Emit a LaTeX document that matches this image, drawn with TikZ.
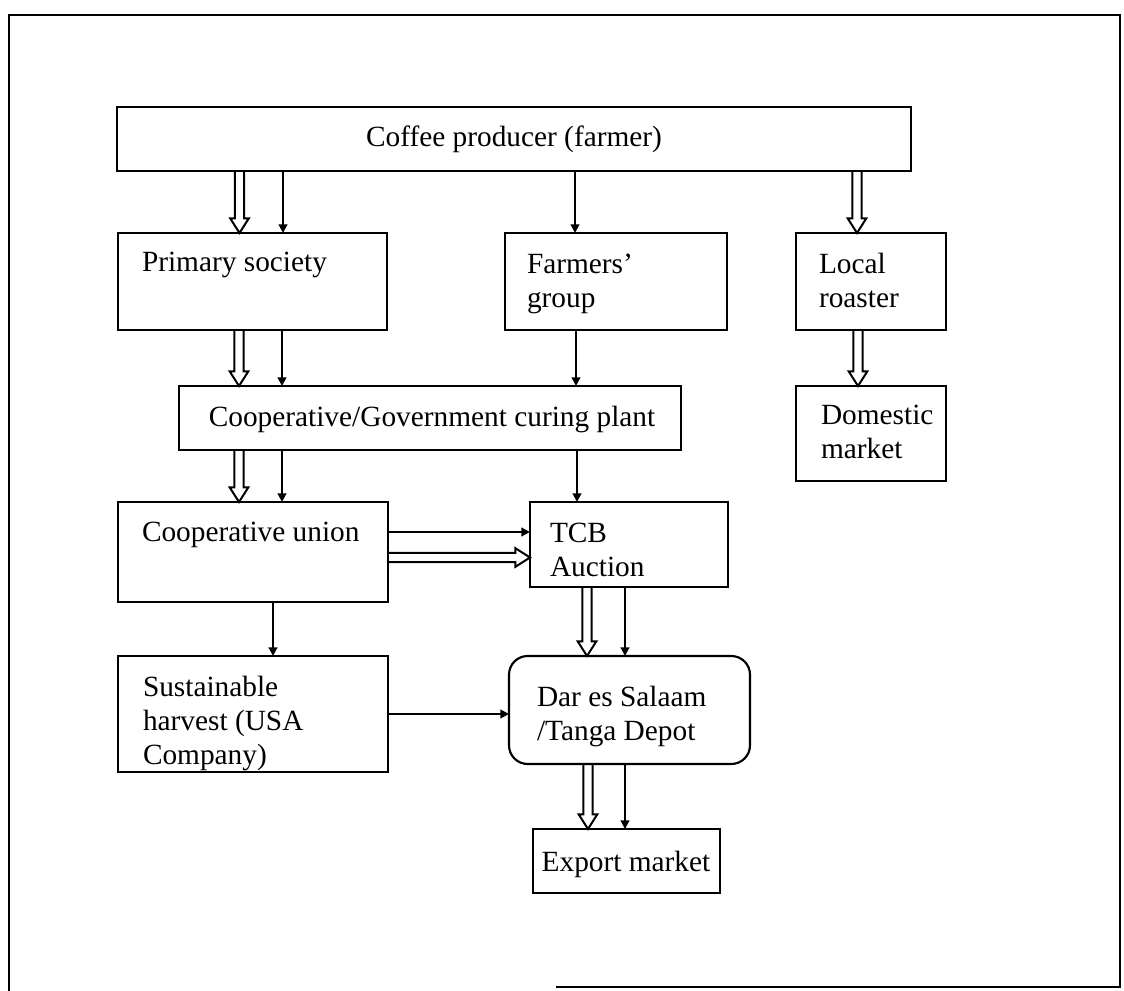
\documentclass[tikz,border=0pt]{standalone}
\usepackage{fontspec}
\setmainfont{Liberation Serif}
\usetikzlibrary{arrows.meta,calc}
\tikzset{
  box/.style={draw, line width=1.6pt, anchor=north west, inner sep=0pt, outer sep=0pt},
  txt/.style={inner sep=0pt, outer sep=0pt, align=left, font=\fontsize{22}{25.5}\selectfont},
  sarr/.style={line width=1.5pt, -{Triangle[width=6.5pt,length=6.5pt]}},
  blk/.style={line width=1.5pt, line join=miter, to path={
      ($(\tikztostart)!3.4pt!90:(\tikztotarget)$)
   -- ($(\tikztotarget)!11pt!(\tikztostart)!3.4pt!90:(\tikztotarget)$)
   -- ($(\tikztotarget)!11pt!(\tikztostart)!7pt!90:(\tikztotarget)$)
   -- (\tikztotarget)
   -- ($(\tikztotarget)!11pt!(\tikztostart)!7pt!-90:(\tikztotarget)$)
   -- ($(\tikztotarget)!11pt!(\tikztostart)!3.4pt!-90:(\tikztotarget)$)
   -- ($(\tikztostart)!3.4pt!-90:(\tikztotarget)$)
  }},
  frame/.style={line width=1.5pt}
}
\begin{document}
\begin{tikzpicture}[x=0.75pt,y=-0.75pt]
\useasboundingbox (0,0) rectangle (1124,991);
% outer frame
\draw[frame] (9,991) -- (9,15) -- (1120,15) -- (1120,987) -- (556,987);

% boxes
\node[box, minimum width=595.5pt, minimum height=48pt] (cof) at (117,107) {};
\node[box, minimum width=201.75pt, minimum height=72.75pt] (ps) at (118,233) {};
\node[box, minimum width=166.5pt, minimum height=72.75pt] (fg) at (505,233) {};
\node[box, minimum width=112.5pt, minimum height=72.75pt] (lr) at (796,233) {};
\node[box, minimum width=376.5pt, minimum height=48pt] (cp) at (179,386) {};
\node[box, minimum width=112.5pt, minimum height=71.25pt] (dm) at (796,386) {};
\node[box, minimum width=202.5pt, minimum height=75pt] (cu) at (118,502) {};
\node[box, minimum width=148.5pt, minimum height=63.75pt] (tcb) at (530,502) {};
\node[box, minimum width=202.5pt, minimum height=87pt] (sh) at (118,656) {};
\node[box, rounded corners=14pt, minimum width=180.75pt, minimum height=81pt] (dep) at (509,656) {};
\node[box, minimum width=140.25pt, minimum height=48pt] (ex) at (533,829) {};

% texts
\node[txt, anchor=base] (cof-t) at (514,147) {Coffee producer (farmer)};
\node[txt, anchor=base west] (ps-t) at (142,272) {Primary society};
\node[txt, anchor=north west] (fg-t) at (527,254) {Farmers’\\group};
\node[txt, anchor=north west] (lr-t) at (819,253) {Local\\roaster};
\node[txt, anchor=base] (cp-t) at (432,426) {Cooperative/Government curing plant};
\node[txt, anchor=north west] (dm-t) at (821,405) {Domestic\\market};
\node[txt, anchor=base west] (cu-t) at (142,541) {Cooperative union};
\node[txt, anchor=north west] (tcb-t) at (550,523) {TCB\\Auction};
\node[txt, anchor=north west] (sh-t) at (143,676) {Sustainable\\harvest (USA\\Company)};
\node[txt, anchor=north west] (dep-t) at (537,686) {Dar es Salaam\\/Tanga Depot};
\node[txt, anchor=base] (ex-t) at (626,871) {Export market};

% connectors
\draw[blk] (cof.south -| 239.5,0) to (ps.north -| 239.5,0);
\draw[sarr] (cof.south -| 283,0) -- (ps.north -| 283,0);
\draw[sarr] (cof.south -| 575,0) -- (fg.north -| 575,0);
\draw[blk] (cof.south -| 857,0) to (lr.north -| 857,0);
\draw[blk] (ps.south -| 239,0) to (cp.north -| 239,0);
\draw[sarr] (ps.south -| 282,0) -- (cp.north -| 282,0);
\draw[sarr] (fg.south -| 576,0) -- (cp.north -| 576,0);
\draw[blk] (lr.south -| 858,0) to (dm.north -| 858,0);
\draw[blk] (cp.south -| 239,0) to (cu.north -| 239,0);
\draw[sarr] (cp.south -| 282,0) -- (cu.north -| 282,0);
\draw[sarr] (cp.south -| 577,0) -- (tcb.north -| 577,0);
\draw[sarr] (cu.east |- 0,532) -- (tcb.west |- 0,532);
\draw[blk] (cu.east |- 0,557.5) to (tcb.west |- 0,557.5);
\draw[sarr] (cu.south -| 273,0) -- (sh.north -| 273,0);
\draw[blk] (tcb.south -| 587,0) to (dep.north -| 587,0);
\draw[sarr] (tcb.south -| 625,0) -- (dep.north -| 625,0);
\draw[sarr] (sh.east |- 0,714) -- (dep.west |- 0,714);
\draw[blk] (dep.south -| 588,0) to (ex.north -| 588,0);
\draw[sarr] (dep.south -| 625,0) -- (ex.north -| 625,0);
\end{tikzpicture}
\end{document}
